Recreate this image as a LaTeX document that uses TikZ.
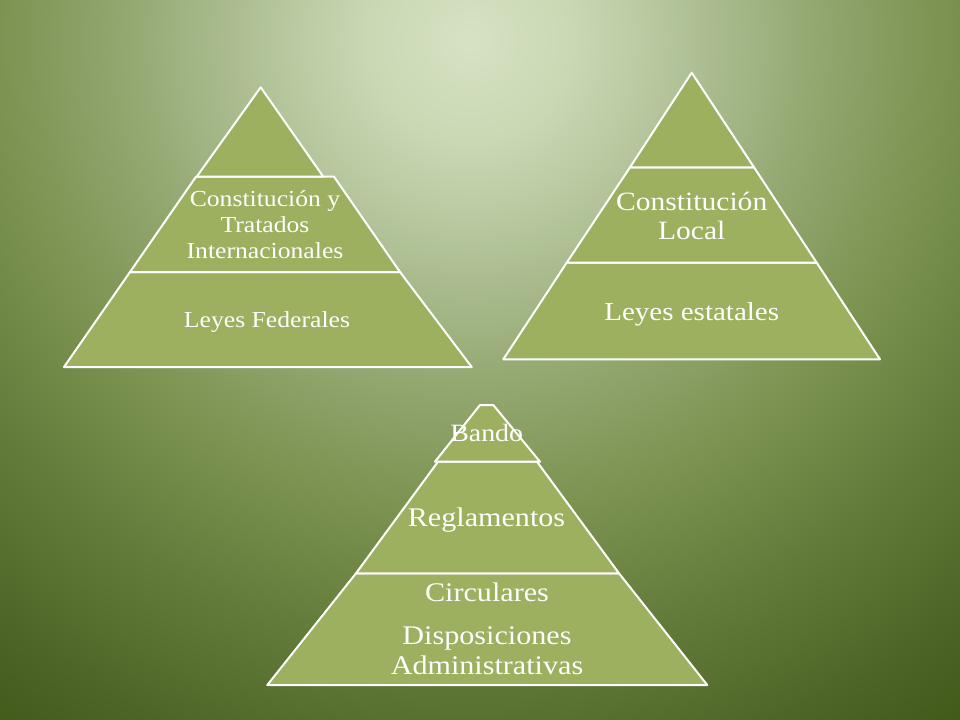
\documentclass[tikz,border=0pt]{standalone}
\usepackage{fontspec}
\setmainfont{Liberation Serif}[FakeStretch=1.12]
\usetikzlibrary{positioning}

\definecolor{tierfill}{RGB}{157,176,96}
\definecolor{bgA}{RGB}{214,226,195}
\definecolor{bgB}{RGB}{202,216,180}
\definecolor{bgC}{RGB}{179,196,154}
\definecolor{bgD}{RGB}{148,168,114}
\definecolor{bgE}{RGB}{123,146,80}
\definecolor{bgF}{RGB}{99,123,58}
\definecolor{bgG}{RGB}{77,101,38}
\definecolor{bgH}{RGB}{64,88,24}
\pgfdeclareradialshading{bgglow}{\pgfpoint{0bp}{0bp}}{color(0bp)=(bgA); color(3bp)=(bgB); color(6bp)=(bgC); color(10bp)=(bgD); color(14bp)=(bgE); color(18bp)=(bgF); color(22bp)=(bgG); color(25bp)=(bgH); color(50bp)=(bgH)}

\tikzset{
  tier/.style={fill=tierfill, draw=white, line width=2bp},
  lbl/.style={text=white, align=center, inner sep=0pt},
}

\begin{document}
\begin{tikzpicture}[line cap=round,line join=round,x=1bp,y=-1bp]
\useasboundingbox (0,0) rectangle (960,720);
\fill[bgH] (0,0) rectangle (960,720);
\begin{scope}
\clip (0,0) rectangle (960,720);
\shade[shading=bgglow] (470,40) circle (850bp);
\end{scope}
% federal pyramid
\draw [tier] (130,272) -- (400,272) -- (471.7,367) -- (64,367) -- cycle;
\draw [tier] (196,176.7) -- (334,176.7) -- (400,272) -- (130,272) -- cycle;
\draw [tier] (260.7,87.3) -- (323.3,176.7) -- (196.7,176.7) -- cycle;
\node [lbl, font=\fontsize{23}{26}\selectfont] (fedconst) at (265,225) {Constitución y\\Tratados\\Internacionales};
\node [lbl, font=\fontsize{23}{26}\selectfont] (fedleyes) at (267,322) {Leyes Federales};
% state pyramid
\draw [tier] (566.7,262.7) -- (816.7,262.7) -- (880,359.3) -- (503.3,359.3) -- cycle;
\draw [tier] (630,167.3) -- (754,167.3) -- (816.7,262.7) -- (566.7,262.7) -- cycle;
\draw [tier] (691.7,72.7) -- (754,167.3) -- (630,167.3) -- cycle;
\node [lbl, font=\fontsize{26.5}{29}\selectfont] (estconst) at (691.7,216) {Constitución\\Local};
\node [lbl, font=\fontsize{26}{29}\selectfont] (estleyes) at (691.7,314) {Leyes estatales};
% municipal pyramid
\draw [tier] (356,573.3) -- (619,573.3) -- (707.3,685) -- (267.3,685) -- cycle;
\draw [tier] (438,461.7) -- (537,461.7) -- (619,573.3) -- (356,573.3) -- cycle;
\draw [tier] (480,405) -- (493.3,405) -- (540,461.7) -- (435,461.7) -- cycle;
\node [lbl, font=\fontsize{25}{28}\selectfont] (bando) at (486.7,433) {Bando};
\node [lbl, font=\fontsize{27}{30}\selectfont] (regla) at (486.5,520) {Reglamentos};
\node [lbl, font=\fontsize{27}{30}\selectfont] (circ) at (487,592) {Circulares};
\node [lbl, font=\fontsize{27}{30}\selectfont] (dispo) at (487,651) {Disposiciones\\Administrativas};
\end{tikzpicture}
\end{document}
